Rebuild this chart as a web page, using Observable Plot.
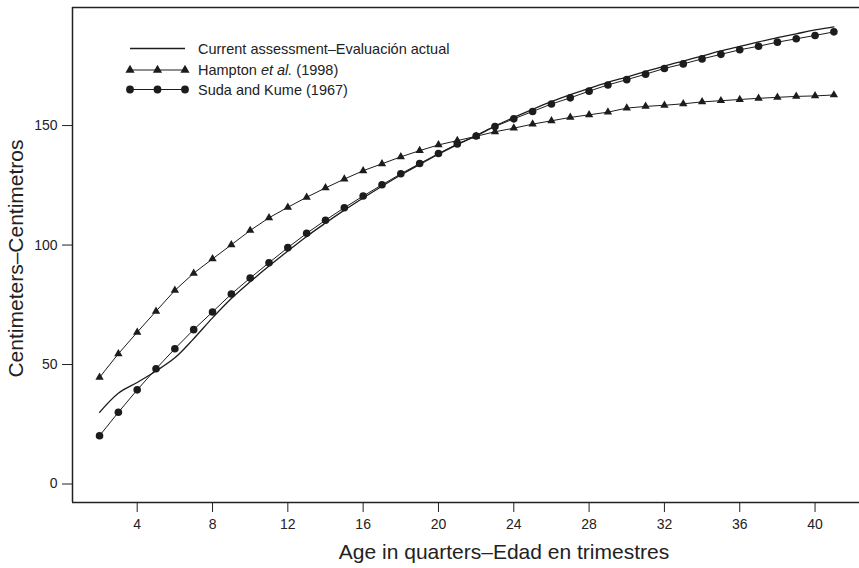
<!DOCTYPE html>
<html>
<head>
<meta charset="utf-8">
<script src="https://cdn.jsdelivr.net/npm/d3@7"></script>
<script src="https://cdn.jsdelivr.net/npm/@observablehq/plot@0.6"></script>
<style>
  html, body { margin: 0; padding: 0; background: #fff; }
  #chart { position: relative; width: 859px; height: 568px; font-family: "Liberation Sans", Arial, Helvetica, sans-serif; color: #222; }
  #legend { position: absolute; left: 0; top: 0; pointer-events: none; }
</style>
</head>
<body>
<div id="chart"></div>
<script>
// ---- data ----
const ages = [2,3,4,5,6,7,8,9,10,11,12,13,14,15,16,17,18,19,20,21,22,23,24,25,26,27,28,29,30,31,32,33,34,35,36,37,38,39,40,41];

const currentCm = [30.0,38.0,42.5,47.3,52.8,60.8,69.5,77.6,84.6,91.2,97.5,103.6,109.2,114.6,119.7,124.6,129.3,133.7,138.0,142.0,145.8,149.8,153.4,156.8,160.0,162.9,165.6,168.1,170.3,172.6,174.9,177.0,179.1,181.2,183.1,185.0,186.8,188.4,190.0,191.3];

const hamptonCm = [44.6,54.5,63.5,72.3,81.0,88.2,94.2,100.1,106.1,111.4,115.8,120.0,123.9,127.6,131.1,134.0,136.9,139.5,141.9,143.7,145.5,147.4,148.9,150.6,152.0,153.4,154.5,155.6,157.3,158.0,158.5,159.1,159.9,160.4,160.9,161.4,161.8,162.2,162.4,162.8];

const sudaCm = [20.2,30.0,39.4,48.2,56.6,64.6,72.0,79.5,86.2,92.6,98.9,104.9,110.4,115.6,120.5,125.2,129.8,134.1,138.3,142.3,145.6,149.6,152.8,155.9,159.0,161.6,164.4,167.0,169.2,171.5,173.9,175.8,177.9,179.8,181.7,183.2,184.9,186.3,187.7,189.2];

const xTicks = [4,8,12,16,20,24,28,32,36,40];
const yTicks = [0,50,100,150];

const xTitle = "Age in quarters–Edad en trimestres";
const yTitle = "Centimeters–Centimetros";

const legendItems = [
  {key: "current", parts: [{t: "Current assessment–Evaluación actual"}]},
  {key: "hampton", parts: [{t: "Hampton "}, {t: "et al.", italic: true}, {t: " (1998)"}]},
  {key: "suda", parts: [{t: "Suda and Kume (1967)"}]}
];

const xDomain = [0.564, 42.36];
const yDomain = [-7.74, 199.4];

// ---- tables built from the arrays ----
const current = ages.map((a, i) => ({age: a, cm: currentCm[i]}));
const hampton = ages.map((a, i) => ({age: a, cm: hamptonCm[i]}));
const suda = ages.map((a, i) => ({age: a, cm: sudaCm[i]}));

const ink = "#1c1c1c";

const chart = Plot.plot({
  width: 859,
  height: 568,
  marginLeft: 72,
  marginRight: 0,
  marginTop: 7,
  marginBottom: 66,
  style: {
    fontFamily: '"Liberation Sans", Arial, Helvetica, sans-serif',
    fontSize: "14px",
    color: "#222",
    background: "#fff"
  },
  x: {domain: xDomain},
  y: {domain: yDomain},
  marks: [
    Plot.axisX({ticks: xTicks, tickSize: 10, tickPadding: 7, label: null, fontSize: 14}),
    Plot.axisY({ticks: yTicks, tickSize: 10, tickPadding: 5, label: null, fontSize: 14}),
    Plot.ruleX([xDomain[0]], {stroke: "#222", strokeWidth: 1.5}),
    Plot.ruleY([yDomain[0], yDomain[1]], {stroke: "#222", strokeWidth: 1.5}),
    Plot.line(current, {x: "age", y: "cm", curve: "catmull-rom", stroke: ink, strokeWidth: 1.3}),
    Plot.line(hampton, {x: "age", y: "cm", stroke: ink, strokeWidth: 1}),
    Plot.dot(hampton, {x: "age", y: "cm", symbol: "triangle", r: 3.1, fill: ink, stroke: "none"}),
    Plot.line(suda, {x: "age", y: "cm", stroke: ink, strokeWidth: 1}),
    Plot.dot(suda, {x: "age", y: "cm", symbol: "circle", r: 3.8, fill: ink, stroke: "none"}),
    Plot.text([xTitle], {text: d => d, frameAnchor: "bottom", textAnchor: "middle", lineAnchor: "middle", dx: 38, dy: 50, fontSize: 21, fill: "#222"}),
    Plot.text([yTitle], {text: d => d, frameAnchor: "left", textAnchor: "middle", lineAnchor: "middle", rotate: -90, dx: -56, dy: 3.5, fontSize: 21, fill: "#222"})
  ]
});

const container = document.getElementById("chart");
container.appendChild(chart);

// ---- legend overlay ----
const leg = d3.select(container).append("svg")
  .attr("id", "legend")
  .attr("width", 859).attr("height", 120);

const rowY = [48.5, 70, 89.5];
const lineX0 = 130, lineX1 = 185, textX = 198;
const markerX = [130, 157.5, 185];

legendItems.forEach((item, i) => {
  const g = leg.append("g").attr("transform", `translate(0,${rowY[i]})`);
  g.append("line").attr("x1", lineX0).attr("x2", lineX1).attr("y1", 0).attr("y2", 0)
    .attr("stroke", ink).attr("stroke-width", item.key === "current" ? 1.3 : 1);
  if (item.key !== "current") {
    const sym = item.key === "hampton"
      ? d3.symbol(d3.symbolTriangle, Math.PI * 3.4 * 3.4)
      : d3.symbol(d3.symbolCircle, Math.PI * 3.9 * 3.9);
    markerX.forEach(mx => {
      g.append("path").attr("d", sym()).attr("transform", `translate(${mx},0)`).attr("fill", ink);
    });
  }
  const t = g.append("text").attr("x", textX).attr("y", 0).attr("dy", "0.35em")
    .attr("font-size", 14.5).attr("fill", "#222")
    .attr("font-family", '"Liberation Sans", Arial, Helvetica, sans-serif');
  item.parts.forEach(p => {
    const s = t.append("tspan").text(p.t);
    if (p.italic) s.attr("font-style", "italic");
  });
});
</script>
</body>
</html>
